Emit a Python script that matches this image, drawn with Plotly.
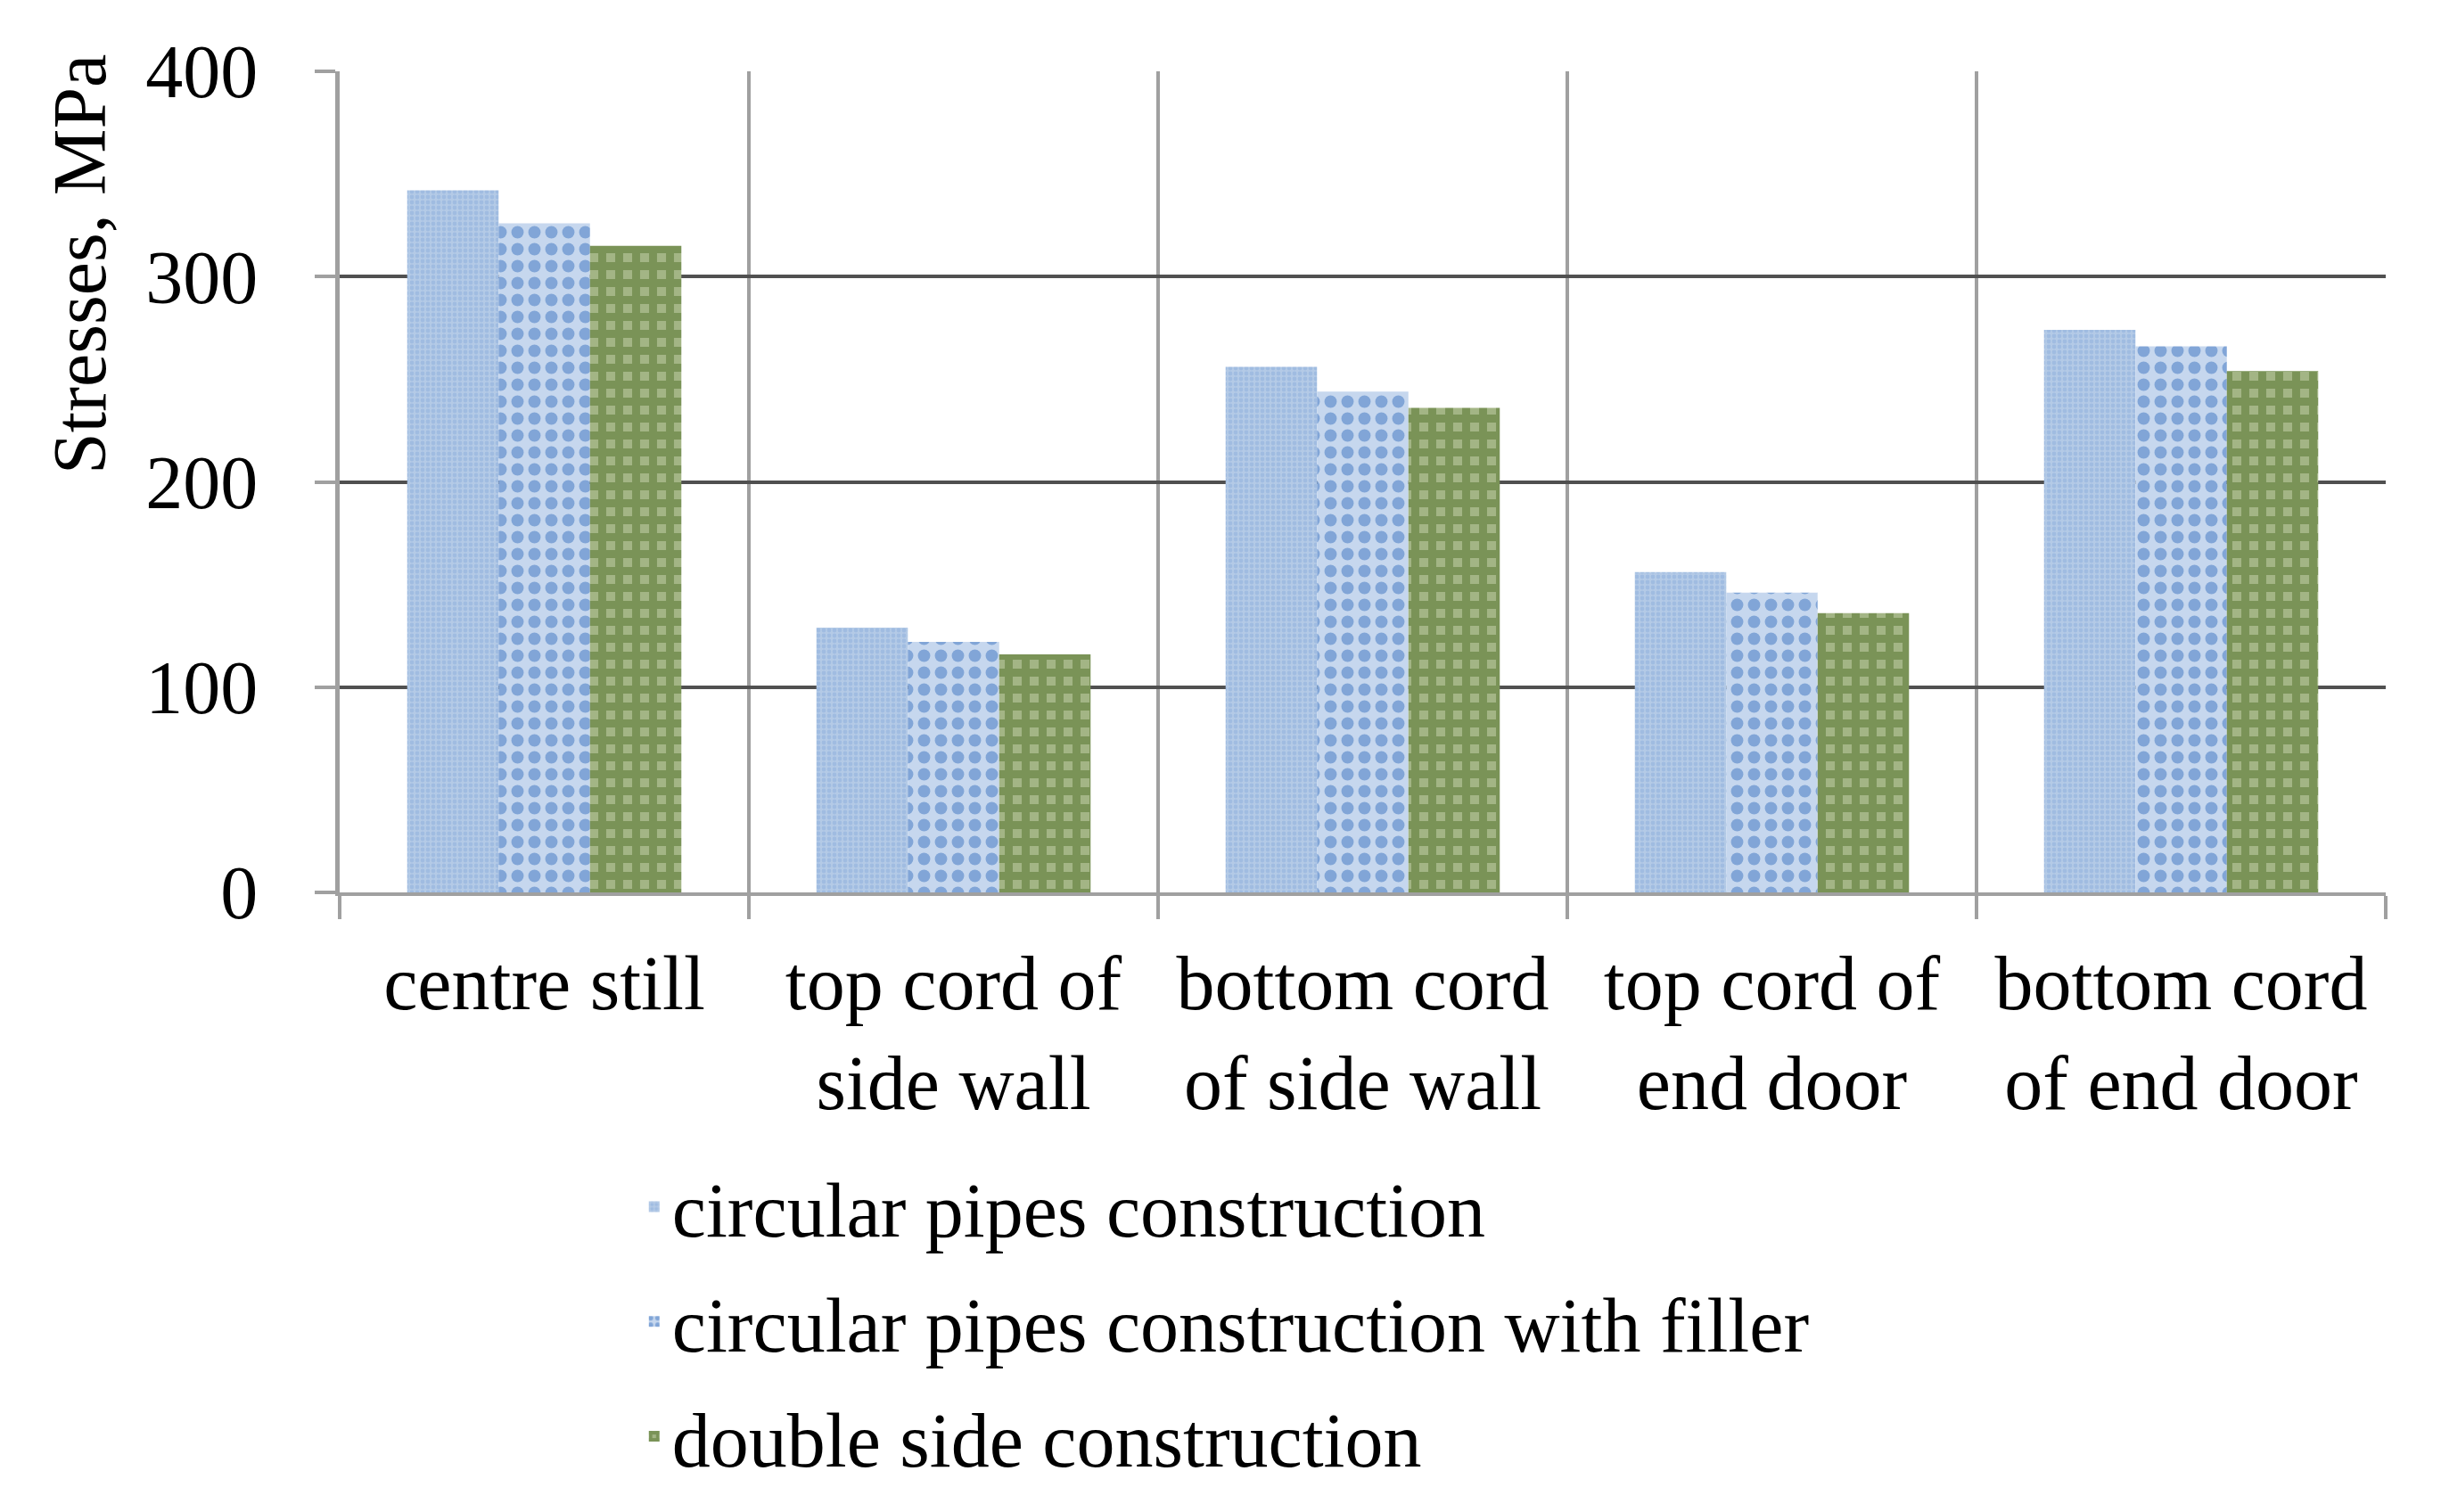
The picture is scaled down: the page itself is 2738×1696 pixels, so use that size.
import plotly.graph_objects as go

# categories (two-line tick labels)
categories = [
    "centre still",
    "top cord of<br>side wall",
    "bottom cord<br>of side wall",
    "top cord of<br>end door",
    "bottom cord<br>of end door",
]

circular = [342, 129, 256, 156, 274]
circular_filler = [326, 122, 244, 146, 266]
double_side = [315, 116, 236, 136, 254]

series_names = [
    "circular pipes construction",
    "circular pipes construction with filler",
    "double side construction",
]

y_ticks = [0, 100, 200, 300, 400]

FONT = "Liberation Serif, Times New Roman, serif"

fig = go.Figure()

fig.add_trace(go.Bar(
    x=categories, y=circular, name=series_names[0], legendgroup="a",
    marker=dict(
        color="#B4CAE6", line=dict(width=0),
        pattern=dict(shape=".", fgcolor="#8CAEDB", size=6, solidity=0.5),
    ),
))
fig.add_trace(go.Bar(
    x=categories, y=circular_filler, name=series_names[1], legendgroup="b",
    marker=dict(
        color="#C6D7EE", line=dict(width=0),
        pattern=dict(shape=".", fgcolor="#3C73C0", size=19, solidity=0.42),
    ),
))
fig.add_trace(go.Bar(
    x=categories, y=double_side, name=series_names[2], legendgroup="c",
    marker=dict(
        color="#A3B585", line=dict(width=0),
        pattern=dict(shape="+", fgcolor="#52722A", size=19, solidity=0.72),
    ),
))

fig.add_annotation(
    text="Stresses, MPa", textangle=-90,
    xref="paper", yref="paper", x=-0.127, y=0.765,
    xanchor="center", yanchor="middle",
    showarrow=False, font=dict(family=FONT, size=84, color="black"),
)

fig.update_layout(
    width=2738, height=1696,
    margin=dict(l=373, r=70, t=72, b=703),
    paper_bgcolor="white", plot_bgcolor="white",
    barmode="group", bargap=0.33, bargroupgap=0,
    font=dict(family=FONT, size=86, color="black"),
    showlegend=True,
    legend=dict(
        x=0.145, y=-0.315, xanchor="left", yanchor="top",
        orientation="v", tracegroupgap=14,
        font=dict(family=FONT, size=86, color="black"),
        bgcolor="rgba(0,0,0,0)",
    ),
    xaxis=dict(
        tickson="boundaries", ticks="outside", ticklen=26, tickwidth=4,
        tickcolor="#A0A0A0",
        showgrid=True, gridcolor="#A0A0A0", gridwidth=4,
        showline=True, linecolor="#A0A0A0", linewidth=4, mirror=False,
        ticklabelstandoff=24,
        tickfont=dict(family=FONT, size=86, color="black"),
    ),
    yaxis=dict(
        range=[0, 400], tickvals=y_ticks, ticks="outside", ticklen=23,
        tickwidth=4, tickcolor="#A0A0A0",
        showgrid=True, gridcolor="#505050", gridwidth=4,
        showline=True, linecolor="#A0A0A0", linewidth=5,
        zeroline=False, ticklabelstandoff=47,
        tickfont=dict(family=FONT, size=84, color="black"),
    ),
)

fig.write_html("out.html")
